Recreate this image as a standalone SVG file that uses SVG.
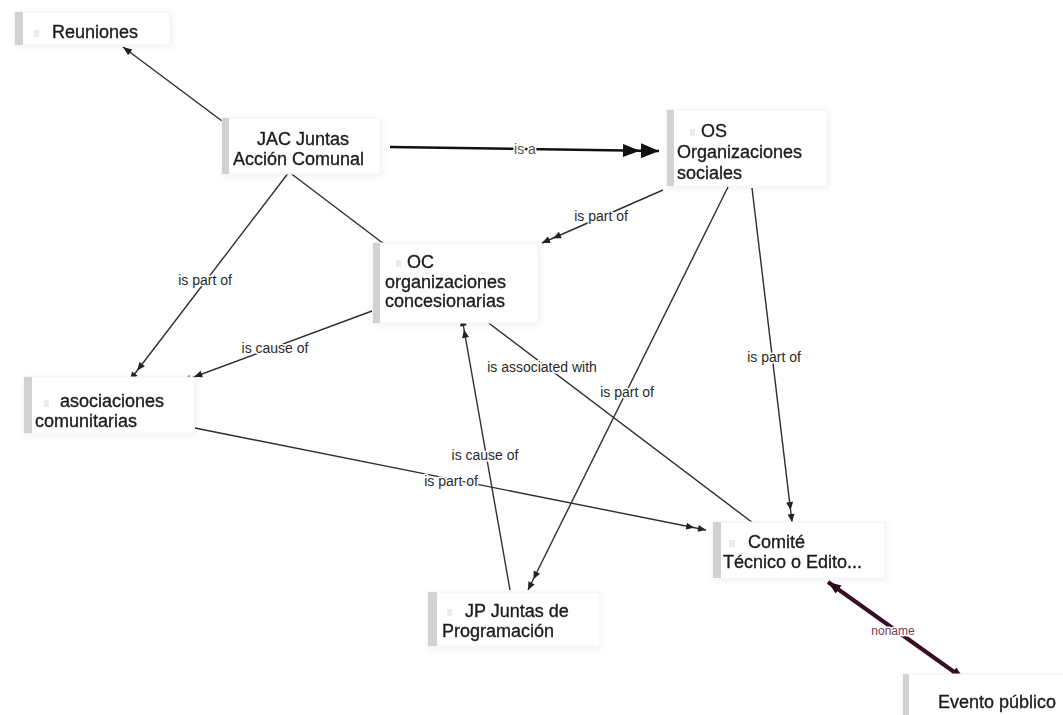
<svg xmlns="http://www.w3.org/2000/svg" width="1063" height="715" viewBox="0 0 1063 715">
  <style>
    .box { fill: #ffffff; stroke: #f2f2f2; stroke-width: 1; }
    .bar { fill: #d2d2d2; }
    .ico { fill: #ececec; }
    .txt { font-family: "Liberation Sans", Arial, sans-serif; font-size: 18px; fill: #1c1c1c;
           stroke: #1c1c1c; stroke-width: 0.35; }
    .edge { fill: none; stroke: #2e2e2e; stroke-width: 1.4; }
    .lbl { font-family: "Liberation Sans", Arial, sans-serif; font-size: 14px; fill: #2a2a2a; text-anchor: middle;
           stroke: #ffffff; stroke-width: 3; paint-order: stroke; stroke-linejoin: round; }
  </style>
  <defs>
    <filter id="soft" x="-10%" y="-20%" width="130%" height="150%">
      <feDropShadow dx="1" dy="2" stdDeviation="3" flood-color="#000" flood-opacity="0.06"/>
    </filter>
    <marker id="dbl" viewBox="-22 -5 24 10" refX="0" refY="0" markerWidth="24" markerHeight="10"
            markerUnits="userSpaceOnUse" orient="auto">
      <path d="M-8,-3.5 L0,0 L-8,3.5 z M-20,-3.5 L-12,0 L-20,3.5 z" fill="#222"/>
    </marker>
    <marker id="one" viewBox="-10 -5 12 10" refX="0" refY="0" markerWidth="12" markerHeight="10"
            markerUnits="userSpaceOnUse" orient="auto">
      <path d="M-9,-3.5 L0,0 L-9,3.5 z" fill="#222"/>
    </marker>
    <marker id="big" viewBox="-38 -9 40 18" refX="0" refY="0" markerWidth="40" markerHeight="18"
            markerUnits="userSpaceOnUse" orient="auto">
      <path d="M-18,-7.5 L0,0 L-18,7.5 z M-36,-6.5 L-19,0 L-36,6.5 z" fill="#111"/>
    </marker>
    <marker id="dark" viewBox="-14 -6 16 12" refX="0" refY="0" markerWidth="16" markerHeight="12"
            markerUnits="userSpaceOnUse" orient="auto-start-reverse">
      <path d="M-13,-5 L0,0 L-13,5 z" fill="#2a0a1c"/>
    </marker>
  </defs>

  <rect x="0" y="0" width="1063" height="715" fill="#ffffff"/>

  <!-- connectors -->
  <g id="connectors">
    <line class="edge" x1="222" y1="121" x2="123" y2="47" marker-end="url(#one)"/>
    <line x1="390" y1="147" x2="659" y2="151" stroke="#111" stroke-width="2.6" marker-end="url(#big)"/>
    <text class="lbl" x="525" y="154" style="fill:#555">is a</text>

    <line class="edge" x1="663" y1="190" x2="542" y2="243" marker-end="url(#dbl)"/>
    <text class="lbl" x="601" y="221">is part of</text>

    <line class="edge" x1="289" y1="172" x2="130" y2="380" marker-end="url(#dbl)"/>
    <text class="lbl" x="205" y="285">is part of</text>

    <line class="edge" x1="289" y1="172" x2="384" y2="244"/>

    <line class="edge" x1="372" y1="311" x2="183" y2="381" marker-end="url(#dbl)"/>
    <text class="lbl" x="275" y="353">is cause of</text>

    <line class="edge" x1="510" y1="590" x2="462" y2="318" marker-end="url(#dbl)"/>
    <text class="lbl" x="485" y="460">is cause of</text>

    <line class="edge" x1="482" y1="318" x2="753" y2="523"/>
    <text class="lbl" x="542" y="372">is associated with</text>

    <line class="edge" x1="728" y1="187" x2="528" y2="590" marker-end="url(#dbl)"/>
    <text class="lbl" x="627" y="397">is part of</text>

    <line class="edge" x1="752" y1="188" x2="792" y2="522" marker-end="url(#dbl)"/>
    <text class="lbl" x="774" y="362">is part of</text>

    <line class="edge" x1="195" y1="428" x2="706" y2="530" marker-end="url(#dbl)"/>
    <text class="lbl" x="451" y="486">is part of</text>

    <line x1="828" y1="582" x2="964" y2="679" stroke="#3a0f26" stroke-width="4"
          marker-start="url(#dark)" marker-end="url(#dark)"/>
    <text class="lbl" x="893" y="635" style="fill:#7a3a58;font-size:12px">noname</text>
  </g>

  <!-- nodes -->
  <g id="n-reuniones" filter="url(#soft)">
    <rect class="box" x="15" y="12" width="155" height="33"/>
    <rect class="bar" x="15" y="12" width="8" height="33"/>
    <rect class="ico" x="34" y="30" width="5" height="7"/>
    <text class="txt" x="52" y="38">Reuniones</text>
  </g>

  <g id="n-jac" filter="url(#soft)">
    <rect class="box" x="222" y="118" width="158" height="56"/>
    <rect class="bar" x="222" y="118" width="7" height="56"/>
    <text class="txt" x="257" y="145">JAC Juntas</text>
    <text class="txt" x="233" y="165">Acción Comunal</text>
  </g>

  <g id="n-os" filter="url(#soft)">
    <rect class="box" x="667" y="110" width="160" height="76"/>
    <rect class="bar" x="667" y="110" width="7" height="76"/>
    <rect class="ico" x="690" y="129" width="5" height="7"/>
    <text class="txt" x="701" y="137">OS</text>
    <text class="txt" x="677" y="158">Organizaciones</text>
    <text class="txt" x="677" y="179">sociales</text>
  </g>

  <g id="n-oc" filter="url(#soft)">
    <rect class="box" x="373" y="243" width="165" height="80"/>
    <rect class="bar" x="373" y="243" width="7" height="80"/>
    <rect class="ico" x="396" y="260" width="5" height="7"/>
    <text class="txt" x="407" y="268">OC</text>
    <text class="txt" x="385" y="288">organizaciones</text>
    <text class="txt" x="385" y="307">concesionarias</text>
  </g>

  <g id="n-asociaciones" filter="url(#soft)">
    <rect class="box" x="24" y="377" width="170" height="56"/>
    <rect class="bar" x="24" y="377" width="8" height="56"/>
    <rect class="ico" x="44" y="400" width="5" height="7"/>
    <text class="txt" x="60" y="407">asociaciones</text>
    <text class="txt" x="35" y="427">comunitarias</text>
  </g>

  <g id="n-jp" filter="url(#soft)">
    <rect class="box" x="428" y="592" width="172" height="54"/>
    <rect class="bar" x="428" y="592" width="9" height="54"/>
    <rect class="ico" x="447" y="609" width="5" height="7"/>
    <text class="txt" x="465" y="617">JP Juntas de</text>
    <text class="txt" x="442" y="637">Programación</text>
  </g>

  <g id="n-comite" filter="url(#soft)">
    <rect class="box" x="713" y="522" width="172" height="56"/>
    <rect class="bar" x="713" y="522" width="8" height="56"/>
    <rect class="ico" x="729" y="540" width="6" height="7"/>
    <text class="txt" x="748" y="548">Comité</text>
    <text class="txt" x="723" y="568">Técnico o Edito...</text>
  </g>

  <g id="n-evento" filter="url(#soft)">
    <rect class="box" x="903" y="674" width="162" height="44"/>
    <rect class="bar" x="903" y="674" width="6" height="44"/>
    <text class="txt" x="938" y="708">Evento público</text>
  </g>
</svg>
